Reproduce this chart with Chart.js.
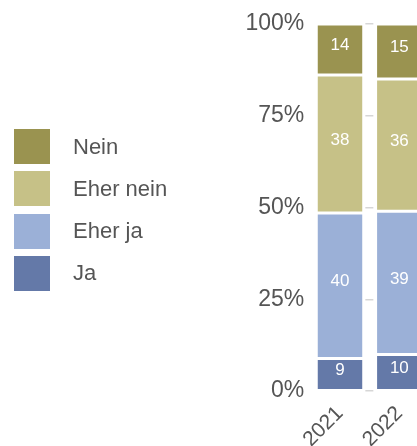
<!DOCTYPE html>
<html>
<head>
<meta charset="utf-8">
<script src="https://cdn.jsdelivr.net/npm/chart.js@4/dist/chart.umd.min.js"></script>
<style>
  html, body { margin: 0; padding: 0; background: #fff; overflow: hidden; }
  #wrap { position: relative; width: 417px; height: 446px; overflow: hidden; }
  #box { position: absolute; left: 0; top: 0; width: 440px; height: 454px; }
  #legend { position: absolute; left: 14px; top: 129px; font-family: "Liberation Sans", Arial, sans-serif; font-size: 22px; color: #555; }
  .item { display: flex; align-items: center; height: 35px; margin-bottom: 7.3px; }
  .sw { width: 36px; height: 35px; margin-right: 23px; }
</style>
</head>
<body>
<div id="wrap">
  <div id="box"><canvas id="chart"></canvas></div>
  <div id="legend"></div>
</div>
<script>
// Daten (Anteile in %, gerundet)
const years = ['2021', '2022'];
const ja = [9, 10];
const eherJa = [40, 39];
const eherNein = [38, 36];
const nein = [14, 15];
const yTicks = [0, 25, 50, 75, 100];

const series = [
  { label: 'Ja', values: ja, color: '#6479a8' },
  { label: 'Eher ja', values: eherJa, color: '#9bb0d7' },
  { label: 'Eher nein', values: eherNein, color: '#c6c187' },
  { label: 'Nein', values: nein, color: '#9a9350' }
];

// Summe pro Jahr -> auf 100% normieren
const totals = years.map((_, j) => series.reduce((s, d) => s + d.values[j], 0));

const valueLabels = {
  id: 'valueLabels',
  afterDatasetsDraw(chart) {
    const ctx = chart.ctx;
    ctx.save();
    ctx.font = '17px "Liberation Sans", Arial, sans-serif';
    ctx.fillStyle = '#ffffff';
    ctx.textAlign = 'center';
    ctx.textBaseline = 'middle';
    chart.data.datasets.forEach((ds, i) => {
      chart.getDatasetMeta(i).data.forEach((bar, j) => {
        const p = bar.getProps(['x', 'y', 'base'], true);
        ctx.fillText(ds.raw[j], p.x, (p.y + p.base) / 2 - 4);
      });
    });
    ctx.restore();
  }
};

// Gitterlinie nur als kurzer Strich in der Lücke zwischen den Balken
const gapDash = [8, 200];
function gapOffset(c) {
  const ch = c.chart;
  const xs = ch.scales.x;
  if (!xs || !ch.chartArea) return 0;
  const mid = (xs.getPixelForTick(0) + xs.getPixelForTick(1)) / 2;
  return 208 - (mid - 4 - ch.chartArea.left);
}

const ctx = document.getElementById('chart').getContext('2d');
const chart = new Chart(ctx, {
  type: 'bar',
  data: {
    labels: years,
    datasets: series.map(s => ({
      label: s.label,
      raw: s.values,
      data: s.values.map((v, j) => v / totals[j] * 100),
      backgroundColor: s.color,
      borderColor: '#ffffff',
      borderWidth: 1.5,
      borderSkipped: false,
      categoryPercentage: 1,
      barPercentage: 0.8
    }))
  },
  options: {
    responsive: true,
    maintainAspectRatio: false,
    animation: false,
    layout: { padding: { left: 239.5, top: 24, right: 11, bottom: 0 } },
    plugins: {
      legend: { display: false },
      tooltip: { enabled: false }
    },
    scales: {
      x: {
        stacked: true,
        grid: { display: false },
        border: { display: false },
        ticks: {
          color: '#555',
          font: { family: '"Liberation Sans", Arial, sans-serif', size: 21 },
          minRotation: 45,
          maxRotation: 45,
          padding: 2
        }
      },
      y: {
        stacked: true,
        min: 0,
        max: 100,
        afterBuildTicks: axis => { axis.ticks = yTicks.map(v => ({ value: v })); },
        grid: { color: '#d6d6d6', lineWidth: 1.5, drawTicks: false },
        border: { display: false, dash: gapDash, dashOffset: gapOffset },
        ticks: {
          color: '#555',
          font: { family: '"Liberation Sans", Arial, sans-serif', size: 23 },
          padding: 6,
          callback: v => v + '%'
        }
      }
    }
  },
  plugins: [valueLabels]
});

// Legende (umgekehrte Reihenfolge wie im Stapel)
const legend = document.getElementById('legend');
series.slice().reverse().forEach(s => {
  const item = document.createElement('div');
  item.className = 'item';
  item.innerHTML = '<div class="sw" style="background:' + s.color + '"></div><span>' + s.label + '</span>';
  legend.appendChild(item);
});
</script>
</body>
</html>
